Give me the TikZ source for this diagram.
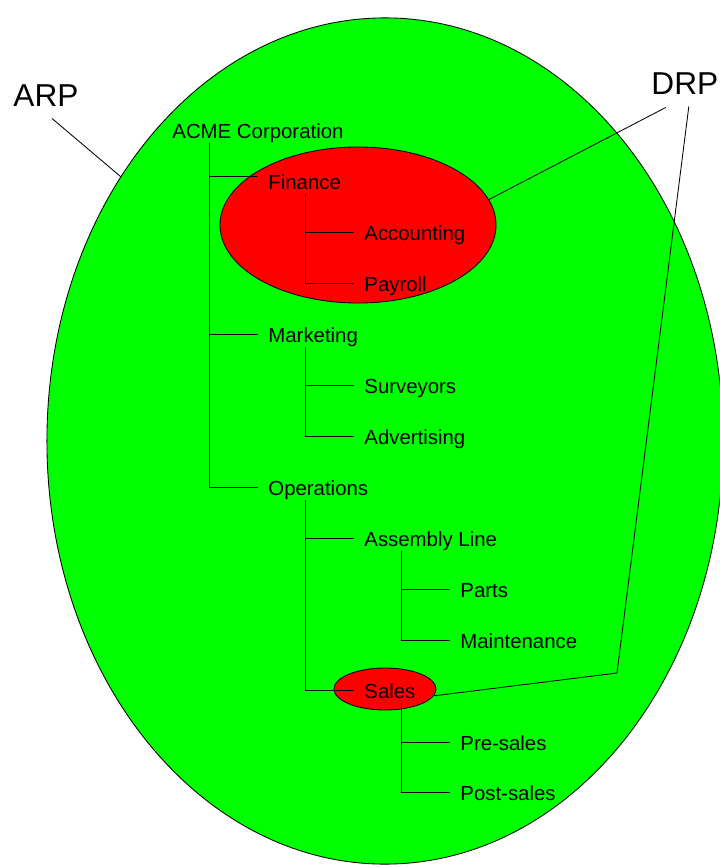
\documentclass[tikz,border=0pt]{standalone}
\usepackage{fontspec}
\setmainfont{Liberation Sans}
\usetikzlibrary{shapes.geometric,calc}
\definecolor{arpgreen}{RGB}{0,255,0}
\definecolor{drpred}{RGB}{255,0,0}
\tikzset{
  unit/.style={anchor=base west, font=\fontsize{14.5}{17}\selectfont,
    inner xsep=7.1pt, inner ysep=3pt, text height=10.5pt, text depth=0pt},
  tag/.style={anchor=base west, font=\fontsize{22.5}{27}\selectfont,
    inner sep=0pt, text depth=0pt},
  zone/.style={ellipse, draw, inner sep=0pt},
}

\begin{document}
\begin{tikzpicture}[x=0.025cm,y=-0.025cm,line width=0.6pt]
        \useasboundingbox (0,0) rectangle (719,867);
        % recovery plans
        \node [zone, fill=arpgreen, minimum width=16.9cm, minimum height=21.15cm] (arpzone) at (385,441) {};
        \node [zone, fill=drpred, minimum width=6.9cm, minimum height=3.9cm] (finzone) at (358,225) {};
        \node [zone, fill=drpred, minimum width=2.55cm, minimum height=1.05cm] (saleszone) at (385,689) {};

        \node [tag] (arp) at (13,107) {ARP};
        \node [tag] (drp) at (651,95) {DRP};
        \coordinate (drpbend) at (617,673);

        % org chart
        \node [unit] (acme) at (162,138) {ACME Corporation};
        \node [unit] (fin) at (258,189) {Finance};
        \node [unit] (acc) at (354,240) {Accounting};
        \node [unit] (pay) at (354,291) {Payroll};
        \node [unit] (mkt) at (258,342) {Marketing};
        \node [unit] (sur) at (354,393) {Surveyors};
        \node [unit] (adv) at (354,444) {Advertising};
        \node [unit] (ops) at (258,495) {Operations};
        \node [unit] (asm) at (354,546) {Assembly Line};
        \node [unit] (parts) at (450,597) {Parts};
        \node [unit] (mnt) at (450,648) {Maintenance};
        \node [unit] (sales) at (354,698) {Sales};
        \node [unit] (pre) at (450,750) {Pre-sales};
        \node [unit] (post) at (450,800) {Post-sales};

        \draw ($(acme.south west)+(47,0)$) |- ($(fin.west)+(0,-5)$);
        \draw ($(acme.south west)+(47,0)$) |- (mkt.west);
        \draw ($(acme.south west)+(47,0)$) |- (ops.west);
        \draw ($(fin.south west)+(47,0)$) |- (acc.west);
        \draw ($(fin.south west)+(47,0)$) |- (pay.west);
        \draw ($(mkt.south west)+(47,0)$) |- (sur.west);
        \draw ($(mkt.south west)+(47,0)$) |- (adv.west);
        \draw ($(ops.south west)+(47,0)$) |- (asm.west);
        \draw ($(ops.south west)+(47,0)$) |- (sales.west);
        \draw ($(asm.south west)+(47,0)$) |- (parts.west);
        \draw ($(asm.south west)+(47,0)$) |- (mnt.west);
        \draw ($(sales.south west)+(47,0)$) |- (pre.west);
        \draw ($(sales.south west)+(47,0)$) |- (post.west);

        % labels to plans
        \draw ($(arp.south)+(6,11)$) -- (arpzone.135);
        \draw ($(drp.south)+(-19,12)$) -- (finzone.11);
        \draw ($(drp.south)+(4,11)$) -- (drpbend) -- (saleszone.-8);
      \end{tikzpicture}
\end{document}
